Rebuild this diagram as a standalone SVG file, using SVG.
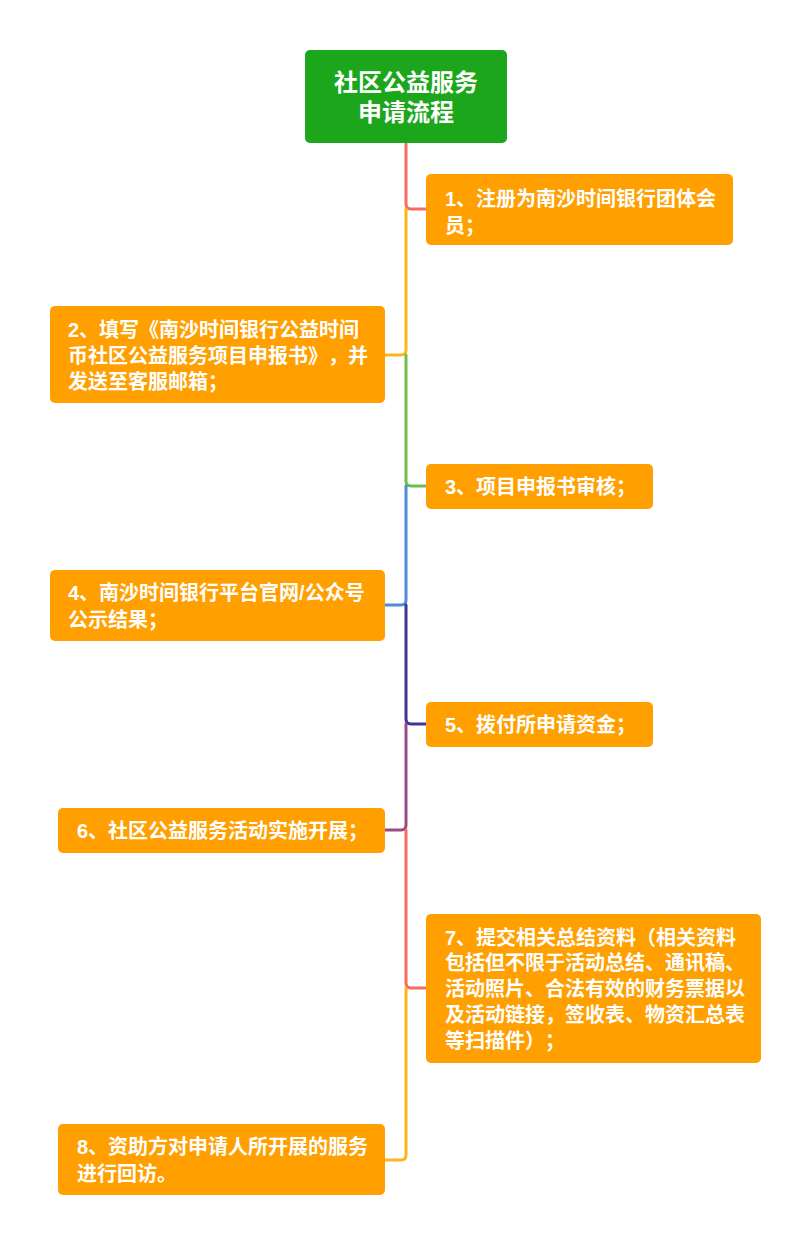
<svg xmlns="http://www.w3.org/2000/svg" width="812" height="1246" viewBox="0 0 812 1246">
<style>
.box{fill:#ffa000}
.root{fill:#1ba61c}
.t{font-family:"Liberation Sans","Noto Sans CJK SC",sans-serif;font-weight:bold;fill:#ffffff;font-size:20px;text-spacing-trim:space-all}
.tt{font-family:"Liberation Sans","Noto Sans CJK SC",sans-serif;font-weight:bold;fill:#ffffff;font-size:24px;text-anchor:middle}
.c{fill:none;stroke-width:3;stroke-linecap:round;stroke-linejoin:round}
</style>
<rect width="812" height="1246" fill="#ffffff"/>
<g id="connectors">
<path class="c" stroke="#f56d5d" d="M406,143 V204 Q406,209 411,209 H426"/>
<path class="c" stroke="#ffb41c" d="M406,209 V350 Q406,355 401,355 H385"/>
<path class="c" stroke="#6cbf4f" d="M406,355 V481 Q406,486 411,486 H426"/>
<path class="c" stroke="#4d8bdb" d="M406,486 V600 Q406,605 401,605 H385"/>
<path class="c" stroke="#3e3594" d="M406,605 V719 Q406,724 411,724 H426"/>
<path class="c" stroke="#9b4a89" d="M406,724 V825 Q406,830 401,830 H385"/>
<path class="c" stroke="#f56d5d" d="M406,830 V983 Q406,988 411,988 H426"/>
<path class="c" stroke="#ffb41c" d="M406,988 V1155 Q406,1160 401,1160 H385"/>
</g>
<g id="root">
<rect class="root" x="305" y="50" width="202" height="93" rx="5"/>
<text class="tt" x="406" y="91">社区公益服务</text>
<text class="tt" x="406" y="121">申请流程</text>
</g>
<g id="node1">
<rect class="box" x="426" y="174" width="307" height="71" rx="5"/>
<text class="t" x="445" y="206">1、注册为南沙时间银行团体会</text>
<text class="t" x="445" y="233">员；</text>
</g>
<g id="node2">
<rect class="box" x="50" y="306" width="335" height="97" rx="5"/>
<text class="t" x="68" y="337">2、填写《南沙时间银行公益时间</text>
<text class="t" x="68" y="363">币社区公益服务项目申报书》，并</text>
<text class="t" x="68" y="389">发送至客服邮箱；</text>
</g>
<g id="node3">
<rect class="box" x="426" y="464" width="227" height="45" rx="5"/>
<text class="t" x="445" y="494">3、项目申报书审核；</text>
</g>
<g id="node4">
<rect class="box" x="50" y="570" width="335" height="71" rx="5"/>
<text class="t" x="68" y="600">4、南沙时间银行平台官网/公众号</text>
<text class="t" x="68" y="627">公示结果；</text>
</g>
<g id="node5">
<rect class="box" x="426" y="702" width="227" height="45" rx="5"/>
<text class="t" x="445" y="732">5、拨付所申请资金；</text>
</g>
<g id="node6">
<rect class="box" x="58" y="808" width="327" height="45" rx="5"/>
<text class="t" x="77" y="838">6、社区公益服务活动实施开展；</text>
</g>
<g id="node7">
<rect class="box" x="426" y="914" width="335" height="149" rx="5"/>
<text class="t" x="445" y="945">7、提交相关总结资料（相关资料</text>
<text class="t" x="445" y="970">包括但不限于活动总结、通讯稿、</text>
<text class="t" x="445" y="996">活动照片、合法有效的财务票据以</text>
<text class="t" x="445" y="1022">及活动链接，签收表、物资汇总表</text>
<text class="t" x="445" y="1048">等扫描件）；</text>
</g>
<g id="node8">
<rect class="box" x="58" y="1124" width="327" height="71" rx="5"/>
<text class="t" x="77" y="1154">8、资助方对申请人所开展的服务</text>
<text class="t" x="77" y="1181">进行回访。</text>
</g>
</svg>
